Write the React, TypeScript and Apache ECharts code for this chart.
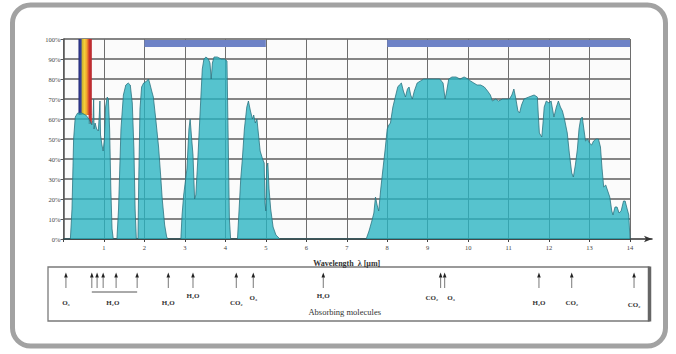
import React, { useEffect, useRef } from "react";
import * as echarts from "echarts";

// Wavelength (µm) and atmospheric transmission (%)
const wavelengths = [
  0.0, 0.17, 0.21, 0.25, 0.29, 0.35, 0.45, 0.55, 0.63, 0.7, 0.73, 0.745, 0.755, 0.78, 0.82, 0.86, 0.885, 0.9, 0.915, 0.95, 0.98, 1.01, 1.04, 1.08, 1.11, 1.14, 1.17, 1.2, 1.23,
  1.32, 1.36, 1.42, 1.48, 1.54, 1.6, 1.65, 1.7, 1.74, 1.77, 1.8,
  1.84, 1.86, 1.89, 1.93, 1.98, 2.06, 2.1, 2.13, 2.18, 2.22, 2.28, 2.35, 2.4, 2.44, 2.5, 2.55, 2.58,
  2.9, 2.93, 2.97, 3.0, 3.05, 3.1, 3.13, 3.16, 3.2, 3.24, 3.27, 3.32, 3.38, 3.43, 3.47, 3.52, 3.58, 3.62, 3.65, 3.68, 3.72, 3.8, 3.9, 3.98, 4.04, 4.07, 4.1, 4.13,
  4.3, 4.34, 4.38, 4.42, 4.47, 4.53, 4.57, 4.62, 4.67, 4.7, 4.74, 4.78, 4.82, 4.86, 4.92, 4.96, 4.98, 5.0, 5.02, 5.05, 5.08, 5.12, 5.18, 5.25, 5.35,
  7.48, 7.55, 7.62, 7.67, 7.71, 7.75, 7.79, 7.84, 7.9, 7.95, 8.0, 8.04, 8.08, 8.14, 8.2, 8.26, 8.3, 8.35, 8.4, 8.45, 8.5, 8.54, 8.58, 8.62, 8.67, 8.74, 8.82, 8.9, 9.0, 9.15, 9.3, 9.38, 9.43, 9.47, 9.52, 9.6, 9.7, 9.8, 9.9, 10.0,
  10.06, 10.14, 10.22, 10.31, 10.4, 10.48, 10.55, 10.6, 10.68, 10.75, 10.85, 10.93, 11.02, 11.08, 11.13, 11.18, 11.23, 11.27, 11.32, 11.38, 11.5, 11.63, 11.71, 11.74, 11.76, 11.82, 11.85, 11.88, 11.93, 12.0,
  12.05, 12.12, 12.18, 12.23, 12.28, 12.33, 12.38, 12.45, 12.5, 12.56, 12.6, 12.65, 12.7, 12.74, 12.78, 12.82, 12.86, 12.9, 12.95, 13.0, 13.05, 13.1, 13.16, 13.22, 13.27, 13.31, 13.35, 13.4, 13.45, 13.5,
  13.55, 13.58, 13.63, 13.68, 13.73, 13.78, 13.84, 13.88, 13.93, 13.97, 14.0,
];
const transmission = [
  0, 0, 15, 50, 61, 63, 63, 62, 60, 57, 60, 70, 55, 58, 55, 54, 62, 69, 52, 47, 44, 50, 66, 71, 70, 55, 25, 5, 0,
  0, 15, 55, 72, 77, 78, 77, 68, 45, 15, 0,
  0, 30, 65, 76, 78, 79, 80, 78, 74, 71, 60, 46, 32, 20, 7, 1, 0,
  0, 12, 22, 27, 35, 55, 60, 52, 42, 20, 22, 40, 65, 85, 90, 91, 90, 88, 80, 88, 91, 91, 90, 90, 89, 50, 10, 0,
  0, 15, 30, 40, 55, 66, 69, 64, 60, 62, 58, 60, 52, 44, 40, 38, 18, 14, 36, 38, 25, 15, 6, 2, 0,
  0, 4, 9, 13, 21, 17, 14, 25, 36, 45, 55, 57, 58, 66, 71, 76, 77, 78, 74, 71, 75, 76, 72, 70, 74, 78, 79, 80, 80, 80, 80, 78, 70, 74, 80, 81, 81, 80, 81, 80,
  79, 78, 77, 77, 76, 74, 72, 69, 70, 69, 70, 70, 70, 72, 75, 70, 64, 63, 67, 70, 71, 72, 71, 60, 53, 51, 58, 66, 69, 68,
  69, 61, 66, 69, 66, 64, 60, 53, 43, 33, 31, 37, 45, 55, 60, 61, 55, 49, 50, 48, 47, 49, 50, 50, 46, 35, 26, 27, 24, 21,
  14, 12, 16, 16, 13, 14, 19, 19, 15, 12, 0,
];

// Absorption bands (µm) marked with arrows, and their molecule labels
const absorberWavelengths = [0.06, 0.7, 0.83, 0.98, 1.3, 1.82, 2.59, 3.2, 4.27, 4.69, 6.42, 9.32, 9.42, 11.75, 12.56, 14.1];
const absorberLabels = ["O₃", "H₂O", "H₂O", "H₂O", "CO₂", "O₃", "H₂O", "CO₂", "O₃", "H₂O", "CO₂", "CO₂"];
const absorberLabelWavelengths = [0.06, 1.22, 2.59, 3.2, 4.27, 4.69, 6.42, 9.1, 9.58, 11.75, 12.56, 14.1];
const labelRowY = [303, 303, 303, 296, 303, 298, 296, 298, 298, 303, 303, 305];
const waterGroup = [0.7, 1.82];

// Atmospheric windows (blue bars) and visible band
const windowStarts = [2, 8];
const windowEnds = [5, 14];
const visibleBand = [0.37, 0.7];

const SERIF = '"Liberation Serif", "DejaVu Serif", serif';

export default function App() {
  const ref = useRef<HTMLDivElement>(null);
  useEffect(() => {
    if (!ref.current) return;
    const chart = echarts.init(ref.current, null, { renderer: "svg" });
    const data = wavelengths.map((w, i) => [w, transmission[i]]);
    const rainbow = new echarts.graphic.LinearGradient(0, 0, 1, 0, [
      { offset: 0, color: "#262a78" },
      { offset: 0.2, color: "#3546a0" },
      { offset: 0.27, color: "#c8b030" },
      { offset: 0.45, color: "#f2cf3a" },
      { offset: 0.6, color: "#f0a830" },
      { offset: 0.72, color: "#e06a28" },
      { offset: 0.8, color: "#c83030" },
      { offset: 1, color: "#b82a30" },
    ]);
    const markData: any[] = windowStarts.map((s, i) => [
      { xAxis: s, yAxis: 96, itemStyle: { color: "#6d82c6" } },
      { xAxis: windowEnds[i], yAxis: 99.5 },
    ]);
    markData.push([
      { xAxis: visibleBand[0], yAxis: 62, itemStyle: { color: rainbow } },
      { xAxis: visibleBand[1], yAxis: 100 },
    ]);
    markData.push([
      { xAxis: 0.62, yAxis: 57.5, itemStyle: { color: "#c23030" } },
      { xAxis: visibleBand[1], yAxis: 62.2 },
    ]);

    chart.setOption({
      animation: false,
      backgroundColor: "#ffffff",
      grid: [
        { left: 63.5, right: 46, top: 39, bottom: 115, show: true, backgroundColor: "#fbfbfb", borderWidth: 0 },
        { left: 63.5, right: 24, top: 39, bottom: 115 },
      ],
      xAxis: [
        {
          type: "value",
          gridIndex: 0,
          min: 0,
          max: 14,
          interval: 1,
          name: "Wavelength  λ [µm]",
          nameLocation: "middle",
          nameGap: 20,
          nameTextStyle: { fontFamily: SERIF, fontSize: 8, fontWeight: "bold", color: "#333" },
          axisLine: { show: false },
          axisTick: { show: true, length: 3, lineStyle: { color: "#444" } },
          axisLabel: {
            fontFamily: SERIF,
            fontSize: 6.5,
            color: "#444",
            margin: 5,
            formatter: (v: number) => (v === 0 ? "" : String(v)),
          },
          splitLine: { show: true, lineStyle: { color: "#6e6e6e", width: 1 } },
        },
        {
          type: "value",
          gridIndex: 1,
          min: 0,
          max: 14.5,
          axisLine: { show: true, symbol: ["none", "arrow"], symbolSize: [5, 8], lineStyle: { color: "#333", width: 1.5 } },
          axisTick: { show: false },
          axisLabel: { show: false },
          splitLine: { show: false },
        },
      ],
      yAxis: [
        {
          type: "value",
          gridIndex: 0,
          min: 0,
          max: 100,
          interval: 10,
          axisLine: { show: true, lineStyle: { color: "#555", width: 1.5 } },
          axisTick: { show: true, length: 3, lineStyle: { color: "#555" } },
          axisLabel: { fontFamily: SERIF, fontSize: 6.5, color: "#444", margin: 3, formatter: "{value}%" },
          splitLine: { show: true, lineStyle: { color: "#858585", width: 1.8 } },
        },
        { type: "value", gridIndex: 1, show: false, min: 0, max: 100 },
      ],
      series: [
        {
          type: "line",
          xAxisIndex: 0,
          yAxisIndex: 0,
          data,
          showSymbol: false,
          symbol: "none",
          z: 3,
          lineStyle: { color: "#2c7480", width: 0.8 },
          areaStyle: { color: "rgba(40,180,194,0.78)", opacity: 1 },
          markArea: { silent: true, data: markData },
        },
      ],
    });

    const px = (w: number) => chart.convertToPixel({ xAxisIndex: 0 }, w) as number;
    const graphics: any[] = [
      {
        type: "rect",
        z: -10,
        shape: { x: 12.5, y: 5, width: 653, height: 341, r: 18 },
        style: { fill: "none", stroke: "#a2a2a2", lineWidth: 5 },
      },
      {
        type: "rect",
        shape: { x: 48, y: 267, width: 601, height: 54 },
        style: { fill: "none", stroke: "#7a7a7a", lineWidth: 1.3 },
      },
      {
        type: "line",
        shape: { x1: 649.5, y1: 266.5, x2: 649.5, y2: 321.5 },
        style: { stroke: "#666", lineWidth: 3.5 },
      },
      {
        type: "line",
        shape: { x1: px(waterGroup[0]), y1: 292, x2: px(waterGroup[1]), y2: 292 },
        style: { stroke: "#555", lineWidth: 1 },
      },
      {
        type: "text",
        style: {
          text: "Absorbing molecules",
          x: px(6.95),
          y: 312,
          align: "center",
          verticalAlign: "middle",
          fontFamily: SERIF,
          fontSize: 8.5,
          fill: "#333",
        },
      },
    ];
    absorberWavelengths.forEach((w) => {
      const x = px(w);
      graphics.push({
        type: "polygon",
        shape: { points: [[x - 1.8, 277.5], [x + 1.8, 277.5], [x, 272.5]] },
        style: { fill: "#222" },
      });
      graphics.push({
        type: "line",
        shape: { x1: x, y1: 277, x2: x, y2: 288 },
        style: { stroke: "#555", lineWidth: 0.8 },
      });
    });
    absorberLabels.forEach((t, i) => {
      graphics.push({
        type: "text",
        style: {
          text: t,
          x: px(absorberLabelWavelengths[i]),
          y: labelRowY[i],
          align: "center",
          verticalAlign: "middle",
          fontFamily: SERIF,
          fontSize: 7,
          fontWeight: "bold",
          fill: "#333",
        },
      });
    });
    chart.setOption({ graphic: { elements: graphics } });

    return () => chart.dispose();
  }, []);
  return <div ref={ref} style={{ position: "fixed", left: 0, top: 0, width: 676, height: 354 }} />;
}
